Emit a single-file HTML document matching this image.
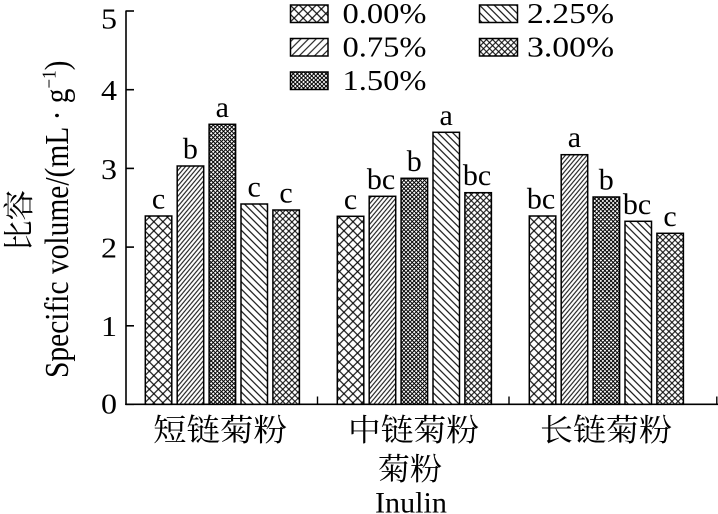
<!DOCTYPE html>
<html>
<head>
<meta charset="utf-8">
<style>
  html,body{margin:0;padding:0;background:#fff;}
  svg{display:block;}
  svg text{font-family:"Liberation Serif","Noto Serif CJK SC",serif;fill:#000;}
  svg text.cjk, svg .cjk text{font-family:"Liberation Serif","Noto Serif CJK SC","Noto Sans CJK SC",serif;}
</style>
</head>
<body>
<svg width="718" height="514" viewBox="0 0 718 514" xmlns="http://www.w3.org/2000/svg" font-family="Liberation Serif, Noto Serif CJK SC, serif">
  <defs>
    <pattern id="p0" patternUnits="userSpaceOnUse" width="6.4" height="6.4" patternTransform="rotate(45)">
      <rect width="6.4" height="6.4" fill="#fff"/>
      <line x1="3.2" y1="0" x2="3.2" y2="6.4" stroke="#000" stroke-width="1.1"/>
      <line x1="0" y1="3.2" x2="6.4" y2="3.2" stroke="#000" stroke-width="1.1"/>
    </pattern>
    <pattern id="p1" patternUnits="userSpaceOnUse" width="3.3" height="10" patternTransform="rotate(40)">
      <rect width="3.3" height="10" fill="#fff"/>
      <line x1="1.65" y1="0" x2="1.65" y2="10" stroke="#000" stroke-width="1"/>
    </pattern>
    <pattern id="p1L" patternUnits="userSpaceOnUse" width="5.4" height="10" patternTransform="rotate(45)">
      <rect width="5.4" height="10" fill="#fff"/>
      <line x1="2.7" y1="0" x2="2.7" y2="10" stroke="#000" stroke-width="1"/>
    </pattern>
    <pattern id="p2" patternUnits="userSpaceOnUse" width="2.9" height="2.9" patternTransform="rotate(45)">
      <rect width="2.9" height="2.9" fill="#fff"/>
      <line x1="1.45" y1="0" x2="1.45" y2="2.9" stroke="#000" stroke-width="1"/>
      <line x1="0" y1="1.45" x2="2.9" y2="1.45" stroke="#000" stroke-width="1"/>
    </pattern>
    <pattern id="p3" patternUnits="userSpaceOnUse" width="5.2" height="10" patternTransform="rotate(-45)">
      <rect width="5.2" height="10" fill="#fff"/>
      <line x1="2.6" y1="0" x2="2.6" y2="10" stroke="#000" stroke-width="1.1"/>
    </pattern>
    <pattern id="p4" patternUnits="userSpaceOnUse" width="4.3" height="4.3" patternTransform="rotate(45)">
      <rect width="4.3" height="4.3" fill="#fff"/>
      <line x1="2.15" y1="0" x2="2.15" y2="4.3" stroke="#000" stroke-width="1"/>
      <line x1="0" y1="2.15" x2="4.3" y2="2.15" stroke="#000" stroke-width="1"/>
    </pattern>
  </defs>

  <line x1="126" y1="10.5" x2="126" y2="405" stroke="#000" stroke-width="1.6"/>
  <line x1="125.2" y1="404.3" x2="718" y2="404.3" stroke="#000" stroke-width="1.6"/>
  <g stroke="#000" stroke-width="1.6">
    <line x1="126" y1="11" x2="134" y2="11"/>
    <line x1="126" y1="89.7" x2="134" y2="89.7"/>
    <line x1="126" y1="168.4" x2="134" y2="168.4"/>
    <line x1="126" y1="247.1" x2="134" y2="247.1"/>
    <line x1="126" y1="325.8" x2="134" y2="325.8"/>
    <line x1="126" y1="404.3" x2="134" y2="404.3"/>
  </g>
  <g stroke="#000" stroke-width="1.4">
    <line x1="317.5" y1="404" x2="317.5" y2="396.5"/>
    <line x1="509" y1="404" x2="509" y2="396.5"/>
    <line x1="716.8" y1="404" x2="716.8" y2="396.5"/>
  </g>

  <g font-size="28" font-family="Liberation Serif, serif">
    <text x="101" y="28.3" textLength="16" lengthAdjust="spacingAndGlyphs">5</text>
    <text x="101" y="100" textLength="16" lengthAdjust="spacingAndGlyphs">4</text>
    <text x="101" y="178.8" textLength="16" lengthAdjust="spacingAndGlyphs">3</text>
    <text x="101" y="257.5" textLength="16" lengthAdjust="spacingAndGlyphs">2</text>
    <text x="101" y="336.2" textLength="16" lengthAdjust="spacingAndGlyphs">1</text>
    <text x="101" y="413.5" textLength="16" lengthAdjust="spacingAndGlyphs">0</text>
  </g>

  <text class="cjk" font-size="31" transform="translate(30,251) rotate(-90)" textLength="61" lengthAdjust="spacingAndGlyphs">比容</text>
  <g transform="translate(68,378) rotate(-90) scale(1,1.15)" font-family="Liberation Serif, serif">
    <text x="0" y="0" font-size="29.5">Specific volume/(mL · g<tspan font-size="17" dy="-11">−1</tspan><tspan font-size="29.5" dy="11">)</tspan></text>
  </g>

  <g stroke="#000" stroke-width="1.5">
    <rect x="145.3" y="216" width="26.5" height="188.3" fill="url(#p0)"/>
    <rect x="177.2" y="166" width="26.5" height="238.3" fill="url(#p1)"/>
    <rect x="209.1" y="124.3" width="26.5" height="280" fill="url(#p2)"/>
    <rect x="241" y="204" width="26.5" height="200.3" fill="url(#p3)"/>
    <rect x="272.9" y="210" width="26.5" height="194.3" fill="url(#p4)"/>
    <rect x="337.3" y="216.3" width="26.5" height="188" fill="url(#p0)"/>
    <rect x="369.2" y="196.3" width="26.5" height="208" fill="url(#p1)"/>
    <rect x="401.1" y="178.3" width="26.5" height="226" fill="url(#p2)"/>
    <rect x="433" y="132.3" width="26.5" height="272" fill="url(#p3)"/>
    <rect x="464.9" y="192.7" width="26.5" height="211.6" fill="url(#p4)"/>
    <rect x="529.3" y="216" width="26.5" height="188.3" fill="url(#p0)"/>
    <rect x="561.2" y="154.7" width="26.5" height="249.6" fill="url(#p1)"/>
    <rect x="593.1" y="197" width="26.5" height="207.3" fill="url(#p2)"/>
    <rect x="625" y="221.3" width="26.5" height="183" fill="url(#p3)"/>
    <rect x="656.9" y="233.3" width="26.5" height="171" fill="url(#p4)"/>
  </g>

  <g font-size="30" text-anchor="middle" font-family="Liberation Serif, serif">
    <text x="158.5" y="208.5">c</text>
    <text x="190.4" y="158.5">b</text>
    <text x="222.3" y="116.8">a</text>
    <text x="254.2" y="196.5">c</text>
    <text x="286.1" y="202.5">c</text>
    <text x="350.5" y="208.8">c</text>
    <text x="381" y="188.8">bc</text>
    <text x="414.3" y="170.8">b</text>
    <text x="446.2" y="124.8">a</text>
    <text x="477" y="185.2">bc</text>
    <text x="541" y="208.5">bc</text>
    <text x="574.4" y="147.2">a</text>
    <text x="606.3" y="189.5">b</text>
    <text x="637" y="213.8">bc</text>
    <text x="670.1" y="225.8">c</text>
  </g>

  <g stroke="#000" stroke-width="1.5">
    <rect x="290.5" y="5" width="37.5" height="17.5" fill="url(#p0)"/>
    <rect x="290.5" y="38.5" width="37.5" height="17.5" fill="url(#p1L)"/>
    <rect x="290.5" y="72" width="37.5" height="17.5" fill="url(#p2)"/>
    <rect x="479.5" y="5" width="38" height="17.5" fill="url(#p3)"/>
    <rect x="479.5" y="38.5" width="38" height="17.5" fill="url(#p4)"/>
  </g>
  <g font-size="28" font-family="Liberation Serif, serif">
    <text x="342.5" y="23" textLength="84" lengthAdjust="spacingAndGlyphs">0.00%</text>
    <text x="342.5" y="56.7" textLength="84" lengthAdjust="spacingAndGlyphs">0.75%</text>
    <text x="342.5" y="90.2" textLength="84" lengthAdjust="spacingAndGlyphs">1.50%</text>
    <text x="527" y="23" textLength="87" lengthAdjust="spacingAndGlyphs">2.25%</text>
    <text x="527" y="56.7" textLength="87" lengthAdjust="spacingAndGlyphs">3.00%</text>
  </g>

  <g class="cjk" font-size="31">
    <text x="153" y="441" textLength="134" lengthAdjust="spacingAndGlyphs">短链菊粉</text>
    <text x="348" y="441" textLength="131" lengthAdjust="spacingAndGlyphs">中链菊粉</text>
    <text x="540" y="441" textLength="132" lengthAdjust="spacingAndGlyphs">长链菊粉</text>
    <text x="378" y="480" textLength="64" lengthAdjust="spacingAndGlyphs">菊粉</text>
  </g>
  <text x="375" y="512.5" font-size="30" font-family="Liberation Serif, serif" textLength="72" lengthAdjust="spacingAndGlyphs">Inulin</text>
</svg>
</body>
</html>
